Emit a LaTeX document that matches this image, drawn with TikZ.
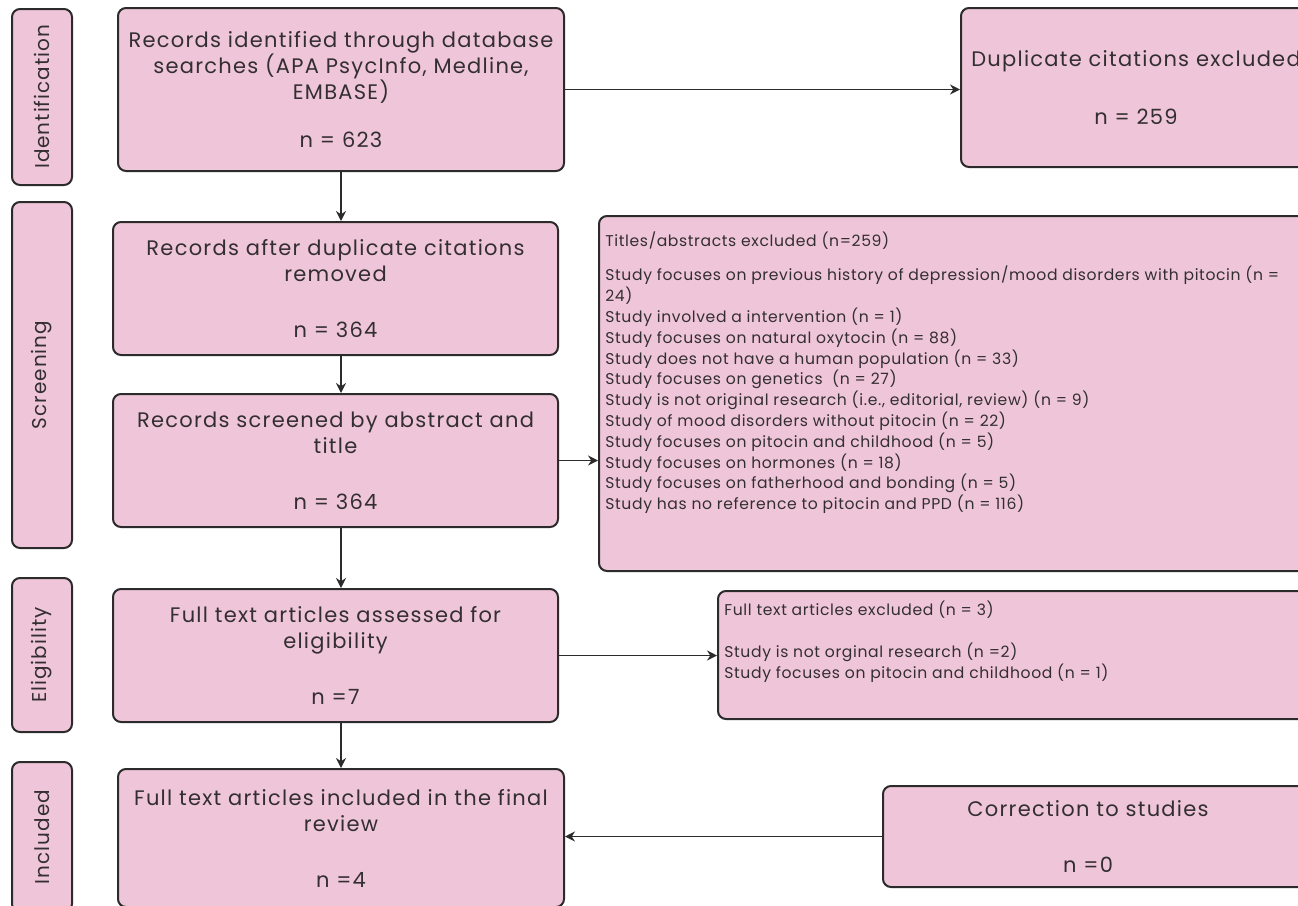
\documentclass[tikz,border=0pt]{standalone}
\usepackage{fontspec}
\setmainfont{Poppins}
\usetikzlibrary{arrows.meta,positioning,calc}
\definecolor{prpink}{HTML}{EFC6D9}
\definecolor{prline}{HTML}{2B2B2B}
\definecolor{prtext}{HTML}{332E31}

\begin{document}
\begin{tikzpicture}[x=0.5pt,y=-0.5pt,
  box/.style={draw=prline,fill=prpink,rounded corners=4pt,line width=1pt,
    align=center,inner sep=3pt,text=prtext,
    font=\fontsize{10.5}{13}\selectfont\addfontfeature{LetterSpace=6}},
  stage/.style={box,rotate=90,minimum height=30pt,
    font=\fontsize{10}{12}\selectfont\addfontfeature{LetterSpace=5}},
  note/.style={align=left,anchor=north west,inner sep=0pt,text=prtext,
    font=\fontsize{7.8}{10.4}\selectfont\addfontfeature{LetterSpace=4}},
  arr/.style={-{Stealth[length=5pt,width=5pt]},prline,line width=0.8pt}]
\useasboundingbox (0,0) rectangle (1298,906);
\node[stage,minimum width=88pt] (sid) at (42,97) {Identification};
\node[stage,minimum width=173pt] (sscr) at (42,375) {Screening};
\node[stage,minimum width=77pt] (selig) at (42,655) {Eligibility};
\node[stage,minimum width=75pt] (sinc) at (42,837) {Included};
\node[box,anchor=north west,minimum width=223pt,minimum height=81.5pt] (recs) at (117,7)
  {Records identified through database\\searches (APA PsycInfo, Medline,\\EMBASE)\\[11pt]n = 623};
\node[box,anchor=north west,minimum width=222.5pt,minimum height=66.5pt] (after) at (112,221)
  {Records after duplicate citations\\removed\\[15pt]n = 364};
\node[box,anchor=north west,minimum width=222.5pt,minimum height=66.5pt] (scrn) at (112,393)
  {Records screened by abstract and\\title\\[15pt]n = 364};
\node[box,anchor=north west,minimum width=222.5pt,minimum height=66.5pt] (full) at (112,588)
  {Full text articles assessed for\\eligibility\\[15pt]n =7};
\node[box,anchor=north west,minimum width=223pt,minimum height=69pt] (incl) at (117,768)
  {Full text articles included in the final\\review\\[15pt]n =4};
\node[box,anchor=north west,minimum width=175pt,minimum height=79.5pt] (dup) at (960,7)
  {Duplicate citations excluded\\[16pt]n = 259};
\node[box,anchor=north west,minimum width=356pt,minimum height=177.5pt] (titles) at (598,215) {};
\node[note] (titlestxt) at ($(titles.north west)+(7,16)$)
  {Titles/abstracts excluded (n=259)\\[7pt]
   Study focuses on previous history of depression/mood disorders with pitocin (n =\\
   24)\\
   Study involved a intervention (n = 1)\\
   Study focuses on natural oxytocin (n = 88)\\
   Study does not have a human population (n = 33)\\
   Study focuses on genetics\ \ (n = 27)\\
   Study is not original research (i.e., editorial, review) (n = 9)\\
   Study of mood disorders without pitocin (n = 22)\\
   Study focuses on pitocin and childhood (n = 5)\\
   Study focuses on hormones (n = 18)\\
   Study focuses on fatherhood and bonding (n = 5)\\
   Study has no reference to pitocin and PPD (n = 116)};
\node[box,anchor=north west,minimum width=296.5pt,minimum height=64pt] (ftx) at (717,590) {};
\node[note] (ftxtxt) at ($(ftx.north west)+(7,11)$)
  {Full text articles excluded (n = 3)\\[10.4pt]
   Study is not orginal research (n =2)\\
   Study focuses on pitocin and childhood (n = 1)};
\node[box,anchor=north west,minimum width=214pt,minimum height=50.5pt] (corr) at (882,785)
  {Correction to studies\hspace*{9pt}\\[15pt]n =0\hspace*{9pt}};
\draw[arr] (recs.south) -- (recs.south|-after.north);
\draw[arr] (recs.south|-after.south) -- (recs.south|-scrn.north);
\draw[arr] (recs.south|-scrn.south) -- (recs.south|-full.north);
\draw[arr] (recs.south|-full.south) -- (recs.south|-incl.north);
\draw[arr] (recs) -- (recs-|dup.west);
\draw[arr] (scrn) -- (scrn-|titles.west);
\draw[arr] (full) -- (full-|ftx.west);
\draw[arr] (corr) -- (corr-|incl.east);
\end{tikzpicture}
\end{document}
